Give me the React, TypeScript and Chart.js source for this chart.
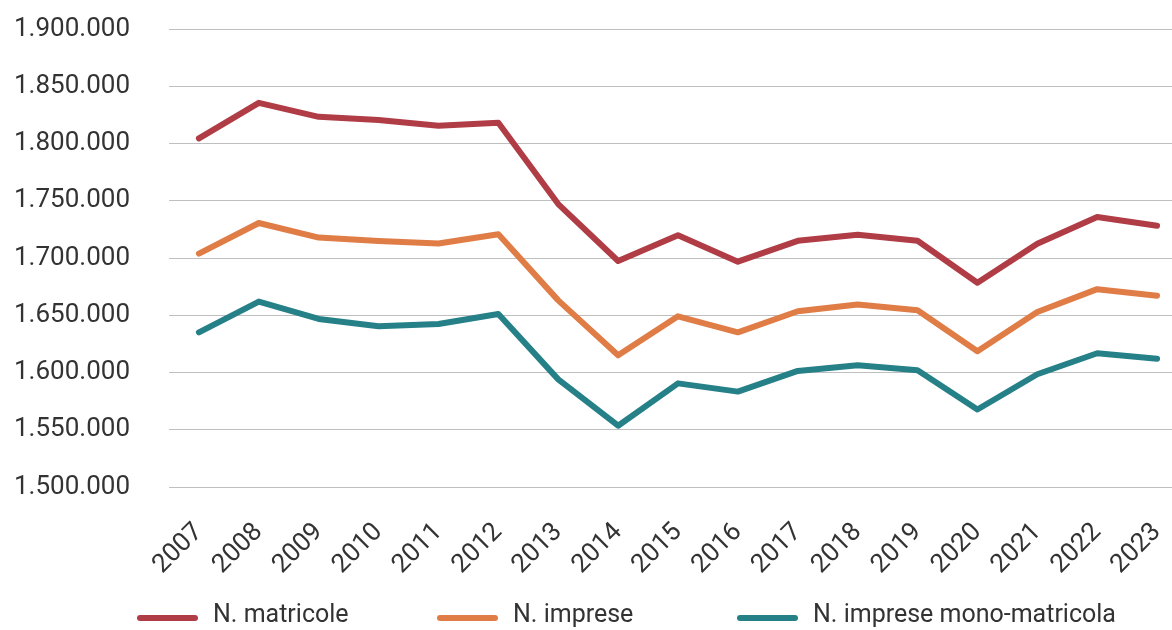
import { useEffect, useRef } from "react";
import { Chart, registerables } from "chart.js";

Chart.register(...registerables);

const years = ["2007", "2008", "2009", "2010", "2011", "2012", "2013", "2014", "2015", "2016", "2017", "2018", "2019", "2020", "2021", "2022", "2023"];

const matricole = [1804500, 1835500, 1823300, 1820500, 1815500, 1818100, 1747100, 1697400, 1719800, 1696800, 1715000, 1720400, 1715000, 1678400, 1712500, 1735800, 1728100];
const imprese = [1703800, 1730600, 1717800, 1714900, 1712600, 1720700, 1663000, 1615000, 1649100, 1635100, 1653500, 1659300, 1654300, 1618500, 1652900, 1672800, 1667000];
const monoMatricola = [1635100, 1661900, 1646800, 1640400, 1642400, 1651100, 1594000, 1553500, 1590500, 1583300, 1601400, 1606300, 1602000, 1567700, 1598500, 1616800, 1612000];

const seriesLabels = ["N. matricole", "N. imprese", "N. imprese mono-matricola"];
const seriesColors = ["#B03C46", "#E07C46", "#268088"];

const yMin = 1500000;
const yMax = 1900000;
const yStep = 50000;

const TEXT_COLOR = "#333333";
const FONT = "Roboto";

function formatIt(v: number): string {
  return String(Math.round(v)).replace(/\B(?=(\d{3})+(?!\d))/g, ".");
}

// Legend drawn with fixed-width slots (as in the source spreadsheet chart)
const fixedLegend = {
  id: "fixedLegend",
  afterDraw(chart: any) {
    const ctx = chart.ctx;
    const startX = 137;
    const slot = 300;
    const lineLen = 61;
    const y = 618;
    ctx.save();
    chart.data.datasets.forEach((ds: any, i: number) => {
      const x0 = startX + i * slot;
      ctx.beginPath();
      ctx.strokeStyle = ds.borderColor;
      ctx.lineWidth = 6;
      ctx.lineCap = "round";
      ctx.moveTo(x0 + 3, y);
      ctx.lineTo(x0 + lineLen - 3, y);
      ctx.stroke();
      ctx.fillStyle = TEXT_COLOR;
      ctx.font = `25px ${FONT}`;
      ctx.textBaseline = "middle";
      ctx.textAlign = "left";
      ctx.fillText(ds.label, x0 + lineLen + 15, y - 2);
    });
    ctx.restore();
  },
};

export default function App() {
  const ref = useRef<HTMLCanvasElement>(null);

  useEffect(() => {
    const seriesData = [matricole, imprese, monoMatricola];
    const chart = new Chart(ref.current as HTMLCanvasElement, {
      type: "line",
      data: {
        labels: years,
        datasets: seriesData.map((d, i) => ({
          label: seriesLabels[i],
          data: d,
          borderColor: seriesColors[i],
          backgroundColor: seriesColors[i],
          borderWidth: 6,
          pointRadius: 0,
          pointHoverRadius: 0,
          tension: 0,
          borderCapStyle: "round" as const,
          borderJoinStyle: "round" as const,
          fill: false,
        })),
      },
      options: {
        animation: false,
        responsive: true,
        maintainAspectRatio: false,
        layout: { padding: { left: 0, right: 1, top: 29, bottom: 0 } },
        plugins: {
          tooltip: { enabled: false },
          legend: { display: false },
        },
        scales: {
          x: {
            offset: true,
            grid: { display: false, drawTicks: false },
            border: { display: false },
            ticks: {
              autoSkip: false,
              maxRotation: 45,
              minRotation: 45,
              font: { family: FONT, size: 26 },
              color: TEXT_COLOR,
              padding: 30,
            },
            afterFit: (s: any) => {
              s.height = 143;
              s.paddingLeft = 0;
              s.paddingRight = 0;
            },
          },
          y: {
            min: yMin,
            max: yMax,
            ticks: {
              stepSize: yStep,
              callback: (v: any) => formatIt(Number(v)),
              font: { family: FONT, size: 26 },
              color: TEXT_COLOR,
              padding: 39,
            },
            grid: { color: "#BFBFBF", lineWidth: 1, drawTicks: false },
            border: { display: false },
            afterFit: (s: any) => {
              s.width = 169;
              s.paddingTop = 0;
              s.paddingBottom = 0;
            },
          },
        },
      },
      plugins: [fixedLegend],
    });
    return () => chart.destroy();
  }, []);

  return (
    <div style={{ position: "fixed", left: 0, top: 0, width: 1172, height: 630, overflow: "hidden", background: "#ffffff" }}>
      <div style={{ position: "relative", width: 1188, height: 630 }}>
        <canvas ref={ref} />
      </div>
    </div>
  );
}
